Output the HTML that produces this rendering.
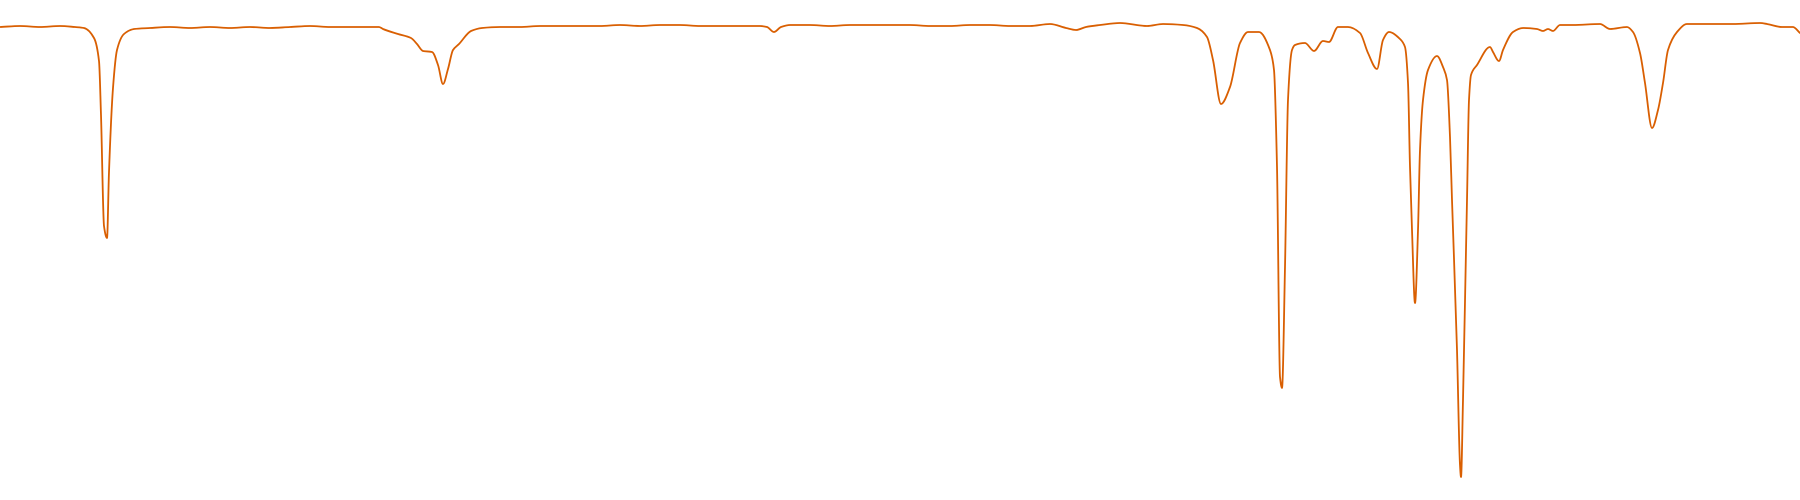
<!DOCTYPE html>
<html>
<head>
<meta charset="utf-8">
<style>
  html,body{margin:0;padding:0;background:#fff;}
  svg{display:block;}
</style>
</head>
<body>
<svg id="chart" width="1800" height="500" viewBox="0 0 1800 500" xmlns="http://www.w3.org/2000/svg">
  <rect x="0" y="0" width="1800" height="500" fill="#ffffff"/>
  <g id="plot"></g>
</svg>
<script>
const sampleIndex = [0,20,40,60,75,84,94,99,101,104,107,109,113,117,124,134,150,170,190,210,230,250,270,290,310,330,350,379,383,398,411,417,423,432,438,443,448,453,459,471,482,500,520,540,560,580,600,620,640,660,680,700,720,740,760,767,774,781,790,810,830,850,870,890,910,930,950,970,990,1010,1030,1050,1066,1076,1086,1100,1120,1147,1163,1183,1197,1207,1213,1221,1230,1240,1248,1259,1270,1274,1277,1280,1282,1285,1288,1292,1295,1305,1314,1323,1329,1338,1348,1360,1368,1377,1383,1389,1400,1405,1408,1410,1412,1415,1418,1420,1423,1428,1437,1443,1447,1450,1452,1457,1460,1461,1463,1466,1467,1469,1471,1477,1490,1493,1499,1503,1513,1523,1537,1543,1548,1553,1560,1573,1600,1610,1627,1633,1640,1645,1652,1658,1663,1668,1677,1687,1710,1733,1760,1767,1782,1793,1800];
const signal = [27,26,27,26,27,28,38,61,115,226,238,172,88,50,34,29,28,27,28,27,28,27,28,27,26,27,27,27,29,34,38,44,51,52,65,84,69,50,44,31,28,27,27,26,26,26,26,25,26,25,25,26,26,26,26,27,32,27,25,25,26,25,25,25,25,26,26,25,25,26,26,24,28,30,27,25,23,26,24,25,28,37,60,104,87,43,32,32,50,70,167,377,388,267,100,50,45,43,51,41,42,27,27,33,53,69,40,32,39,47,83,167,230,303,230,150,100,70,56,67,80,137,200,350,465,477,400,250,200,100,75,65,47,52,61,50,32,28,29,31,29,31,25,25,24,29,27,32,53,83,128,110,83,50,32,24,24,24,23,24,27,27,33];

const xDomain = [0, 1800], xRange = [0, 1800];
const yDomain = [0, 500], yRange = [0, 500];
function xScale(v){ return xRange[0] + (v - xDomain[0]) / (xDomain[1] - xDomain[0]) * (xRange[1] - xRange[0]); }
function yScale(v){ return yRange[0] + (v - yDomain[0]) / (yDomain[1] - yDomain[0]) * (yRange[1] - yRange[0]); }

// monotone cubic (Fritsch-Carlson) path
function monotonePath(xs, ys){
  const n = xs.length, dx = [], m = [], t = new Array(n);
  for (let i = 0; i < n - 1; i++){ dx.push(xs[i+1]-xs[i]); m.push((ys[i+1]-ys[i])/(xs[i+1]-xs[i])); }
  t[0] = m[0]; t[n-1] = m[n-2];
  for (let i = 1; i < n - 1; i++){
    if (m[i-1]*m[i] <= 0) t[i] = 0;
    else { const w1 = 2*dx[i]+dx[i-1], w2 = dx[i]+2*dx[i-1]; t[i] = (w1+w2)/(w1/m[i-1]+w2/m[i]); }
  }
  let d = 'M' + xs[0].toFixed(1) + ',' + ys[0].toFixed(1);
  for (let i = 0; i < n - 1; i++){
    const h = dx[i] / 3;
    d += 'C' + (xs[i]+h).toFixed(1) + ',' + (ys[i]+t[i]*h).toFixed(1) + ' ' +
         (xs[i+1]-h).toFixed(1) + ',' + (ys[i+1]-t[i+1]*h).toFixed(1) + ' ' +
         xs[i+1].toFixed(1) + ',' + ys[i+1].toFixed(1);
  }
  return d;
}

const plot = document.getElementById('plot');
const px = sampleIndex.map(xScale);
const py = signal.map(yScale);
const path = document.createElementNS('http://www.w3.org/2000/svg', 'path');
path.setAttribute('d', monotonePath(px, py));
path.setAttribute('fill', 'none');
path.setAttribute('stroke', '#d95f02');
path.setAttribute('stroke-width', '1.8');
path.setAttribute('stroke-linejoin', 'round');
path.setAttribute('stroke-linecap', 'round');


plot.appendChild(path);
</script>
</body>
</html>
